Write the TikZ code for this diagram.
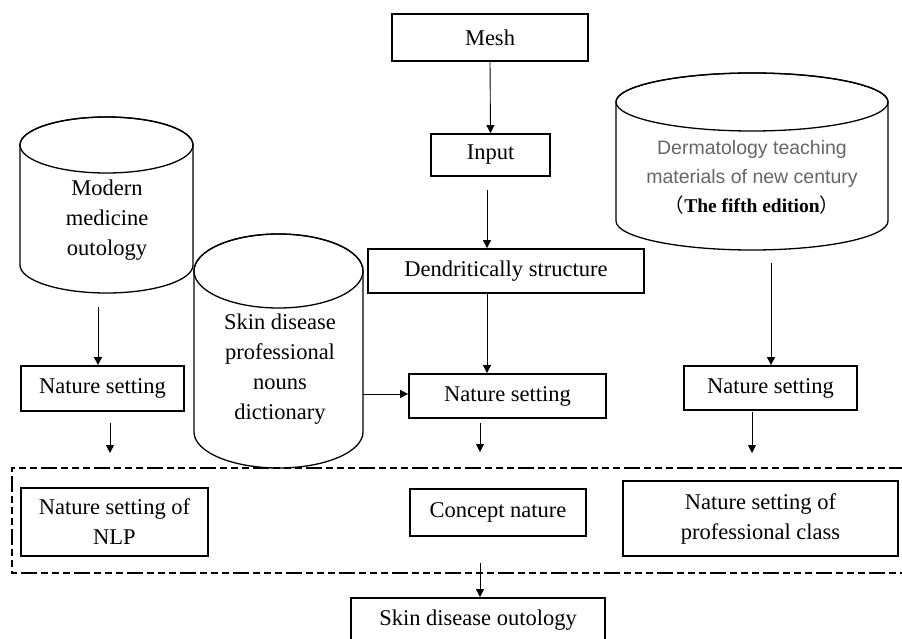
\documentclass[tikz,border=0pt]{standalone}
\usepackage{fontspec}
\setmainfont{Liberation Serif}
\newfontfamily\arialfont{Liberation Sans}
\newfontfamily\cjkfont{Noto Sans CJK SC}
\usetikzlibrary{arrows.meta}
\begin{document}
\begin{tikzpicture}[x=1pt,y=-1pt,
  boxnode/.style={draw,line width=1.8pt,minimum width=#1,inner sep=0pt,align=center,font=\fontsize{22.5}{30}\selectfont},
  cyl/.style={draw,line width=1.3pt,fill=white},
  arr/.style={line width=0.9pt,-{Triangle[width=8pt,length=8pt]}},
  frame/.style={line width=1.5pt,dash pattern=on 16pt off 4pt on 7pt off 4pt on 7pt off 4pt on 7pt off 4pt},
  cyltext/.style={align=center,font=\fontsize{22.5}{30}\selectfont},
]
\useasboundingbox (0,0) rectangle (902,639);
\fill[white] (0,0) rectangle (902,639);

% cylinders
\path[cyl] (20,145) -- (20,265) arc[start angle=180,end angle=360,x radius=86.5,y radius=-28] -- (193,145) arc[start angle=0,end angle=180,x radius=86.5,y radius=-28] -- cycle;
\draw[line width=1.3pt] (106.5,145) ellipse[x radius=86.5,y radius=28];
\path[cyl] (194,271) -- (194,432) arc[start angle=180,end angle=360,x radius=84.5,y radius=-36] -- (363,271) arc[start angle=0,end angle=180,x radius=84.5,y radius=-37] -- cycle;
\draw[line width=1.3pt] (278.5,271) ellipse[x radius=84.5,y radius=37];
\path[cyl] (616,102) -- (616,221) arc[start angle=180,end angle=360,x radius=136,y radius=-29] -- (888,102) arc[start angle=0,end angle=180,x radius=136,y radius=-29] -- cycle;
\draw[line width=1.3pt] (752,102) ellipse[x radius=136,y radius=29];

\node[cyltext] (modern) at (107,220) {Modern\\medicine\\outology};
\node[cyltext] (skin) at (280,369) {Skin disease\\professional\\nouns\\dictionary};
\node[align=center,font=\fontsize{19.5}{29}\selectfont] (derm) at (752,177) {{\arialfont\color{black!60}Dermatology teaching}\\{\arialfont\color{black!60}materials of new century}\\{\cjkfont （}\textbf{The fifth edition}{\cjkfont ）}};

% dashed frame
\draw[frame] (905,468) -- (12,468) -- (12,573) -- (905,573);

% boxes
\node[boxnode=196pt,minimum height=47pt] (mesh) at (490,37.5) {Mesh};
\node[boxnode=119pt,minimum height=42pt] (input) at (490.5,155) {Input};
\node[boxnode=276pt,minimum height=44pt] (dend) at (506,271) {Dendritically structure};
\node[boxnode=197pt,minimum height=44pt] (nsmid) at (507.5,396) {Nature setting};
\node[boxnode=163pt,minimum height=45pt] (nsleft) at (102.5,388.5) {Nature setting};
\node[boxnode=173pt,minimum height=44pt] (nsright) at (770.5,388) {Nature setting};
\node[boxnode=187pt,minimum height=68pt] (nlp) at (114.5,522) {Nature setting of\\NLP};
\node[boxnode=176pt,minimum height=47pt] (concept) at (498,512.5) {Concept nature};
\node[boxnode=275pt,minimum height=75pt] (prof) at (760.5,518.5) {Nature setting of\\professional class};
\node[boxnode=254pt,minimum height=44pt] (onto) at (478,620) {Skin disease outology};

% connector anchors
\coordinate (a1) at (487,190);
\coordinate (a2) at (487,293);
\coordinate (a3) at (480,423);
\coordinate (a3e) at (480,452);
\coordinate (l1) at (98,307);
\coordinate (l2) at (110,423);
\coordinate (l2e) at (110,453);
\coordinate (r1) at (771,263);
\coordinate (r2) at (752,412);
\coordinate (r2e) at (752,453);
\coordinate (m1) at (363,394);
\coordinate (b1) at (480,563);

% arrows
\draw[arr] (mesh.south) -- (input.north);
\draw[arr] (a1) -- (a1 |- dend.north);
\draw[arr] (a2) -- (a2 |- nsmid.north);
\draw[arr] (a3) -- (a3e);
\draw[arr] (l1) -- (l1 |- nsleft.north);
\draw[arr] (l2) -- (l2e);
\draw[arr] (r1) -- (r1 |- nsright.north);
\draw[arr] (r2) -- (r2e);
\draw[arr] (m1) -- (m1 -| nsmid.west);
\draw[arr] (b1) -- (b1 |- onto.north);
\end{tikzpicture}
\end{document}
